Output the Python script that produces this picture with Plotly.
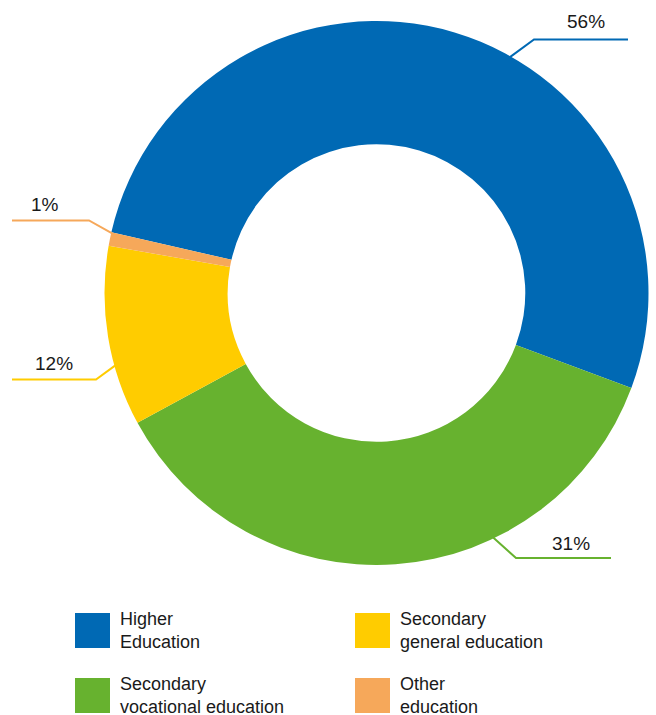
import plotly.graph_objects as go
import math

# ---- data ----
categories = ["Higher Education", "Secondary vocational education",
              "Secondary general education", "Other education"]
legend_labels = ["Higher<br>Education", "Secondary<br>vocational education",
                 "Secondary<br>general education", "Other<br>education"]
shares = [52.1, 36.4, 10.7, 0.8]          # slice sizes as drawn
pct_labels = ["56%", "31%", "12%", "1%"]  # printed labels

# ---- style ----
colors = ["#0069B4", "#67B22F", "#FFCC00", "#F6A85A"]
W, H = 656, 715
CX, CY, R = 376.5, 293.0, 272.0
HOLE = 0.547
FONT = "Liberation Sans, Arial, sans-serif"
TXT = "#1a1a1a"

def px(x):
    return x / W

def py(y):
    return 1 - y / H

fig = go.Figure()
fig.add_trace(go.Pie(
    labels=categories, values=shares, sort=False, direction="clockwise",
    rotation=-77.1, hole=HOLE,
    marker=dict(colors=colors, line=dict(width=0)),
    textinfo="none", hoverinfo="label+value", showlegend=False,
    domain=dict(x=[px(CX - R), px(CX + R)], y=[py(CY + R), py(CY - R)]),
))

# leader lines: (start angle on ring in degrees, elbow, end) in pixel space
leaders = [
    dict(ang=60.5, elbow=(534, 39.5), end=(628, 39.5), text=(586, 21)),
    dict(ang=-64.5, elbow=(516, 558), end=(611, 558), text=(571, 543)),
    dict(ang=195.5, elbow=(96, 379.5), end=(12, 379.5), text=(54, 364)),
    dict(ang=167.3, elbow=(89, 220.5), end=(12, 220.5), text=(44.5, 205)),
]
shapes = []
annotations = []
for i, ld in enumerate(leaders):
    a = math.radians(ld["ang"])
    sx = CX + (R - 1) * math.cos(a)
    sy = CY - (R - 1) * math.sin(a)
    path = "M {} {} L {} {} L {} {}".format(
        px(sx), py(sy), px(ld["elbow"][0]), py(ld["elbow"][1]),
        px(ld["end"][0]), py(ld["end"][1]))
    shapes.append(dict(type="path", xref="paper", yref="paper", path=path,
                       line=dict(color=colors[i], width=2)))
    annotations.append(dict(x=px(ld["text"][0]), y=py(ld["text"][1]),
                            xref="paper", yref="paper", text=pct_labels[i],
                            showarrow=False, xanchor="center", yanchor="middle",
                            font=dict(family=FONT, size=19, color=TXT)))

# manual 2x2 legend
legend_pos = [(75, 613), (75, 678), (355, 613), (355, 678)]
for i, (lx, ly) in enumerate(legend_pos):
    shapes.append(dict(type="rect", xref="paper", yref="paper",
                       x0=px(lx), x1=px(lx + 35), y0=py(ly + 35), y1=py(ly),
                       fillcolor=colors[i], line=dict(width=0)))
    annotations.append(dict(x=px(lx + 43), y=py(ly - 6), xref="paper", yref="paper",
                            text=legend_labels[i], showarrow=False,
                            xanchor="left", yanchor="top", align="left",
                            font=dict(family=FONT, size=18, color=TXT)))

fig.update_layout(
    width=W, height=H, margin=dict(l=0, r=0, t=0, b=0),
    paper_bgcolor="white", plot_bgcolor="white",
    shapes=shapes, annotations=annotations,
)
fig.write_html("out.html")
